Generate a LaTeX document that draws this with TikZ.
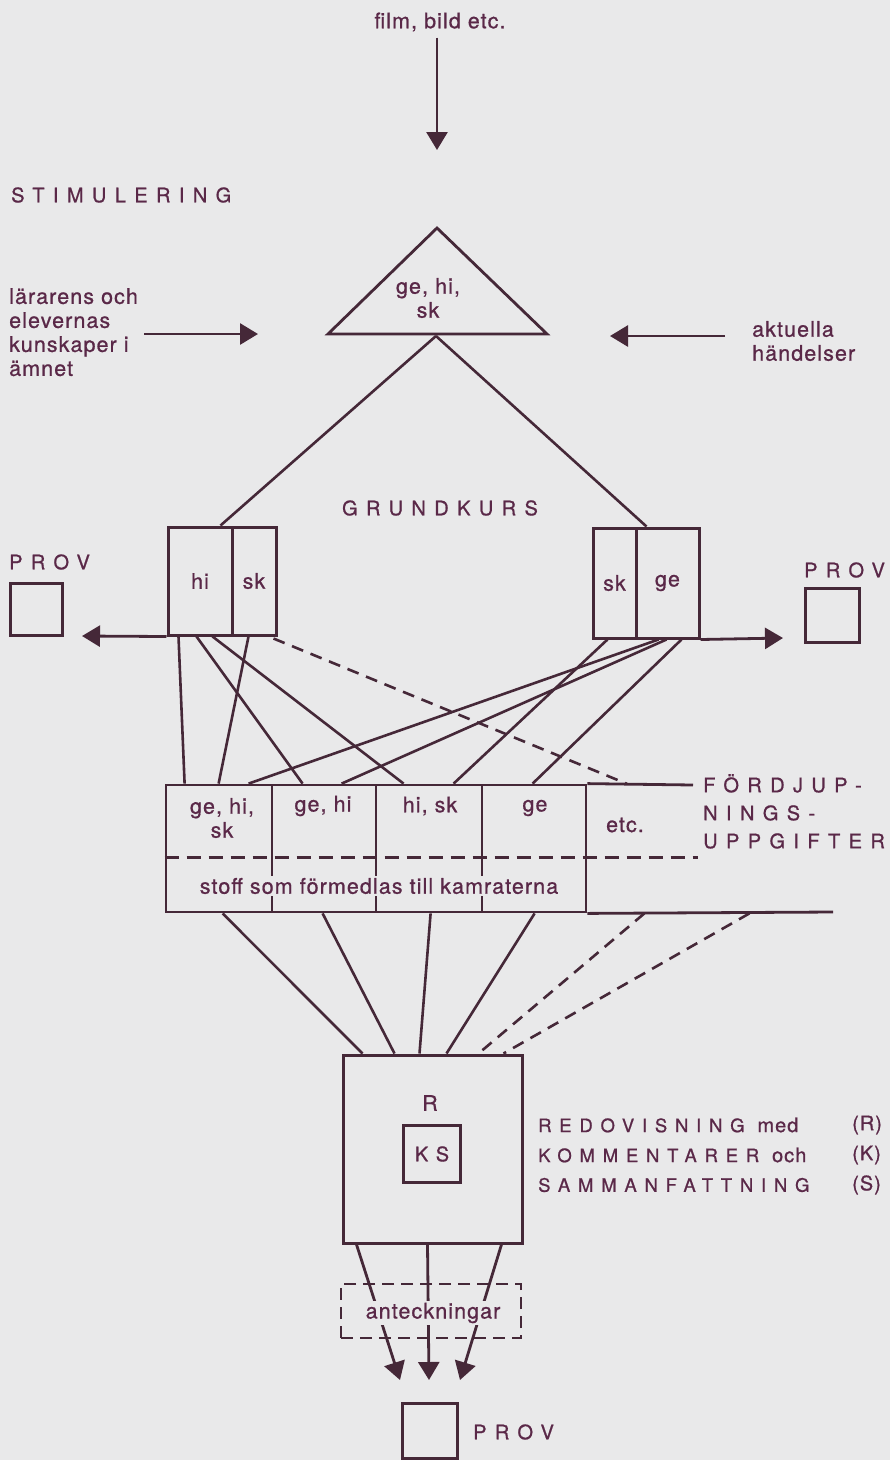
\documentclass[tikz,border=0pt]{standalone}
\usepackage{fontspec}
\setmainfont{TeX Gyre Heros}
\newfontfamily\plainfont[LetterSpace=5,FakeBold=0.8]{TeX Gyre Heros}
\newfontfamily\spacedfont[LetterSpace=42,FakeBold=0.8]{TeX Gyre Heros}
\usetikzlibrary{arrows.meta}
\usetikzlibrary{calc}
\definecolor{paper}{HTML}{E9E9EA}
\definecolor{ink}{HTML}{452838}
\definecolor{print}{HTML}{5A2848}

\begin{document}
\begin{tikzpicture}[x=1pt,y=-1pt,color=ink,
  lbl/.style={font=\plainfont\fontsize{21.5}{24}\selectfont, text=print, inner sep=0pt, align=center},
  caps/.style={font=\spacedfont\fontsize{20}{28}\selectfont, text=print, inner sep=0pt},
  side/.style={font=\spacedfont\fontsize{18.5}{24}\selectfont, text=print, inner sep=0pt, anchor=west},
  box/.style={draw=ink, line width=3pt, rectangle, inner sep=0pt, font=\plainfont\fontsize{21.5}{24}\selectfont, text=print},
  link/.style={line width=2.6pt},
  hint/.style={line width=2.6pt, dash pattern=on 12pt off 8pt},
  arr/.style={line width=2.8pt, -{Triangle[length=18pt,width=21pt]}}]
\path[use as bounding box, fill=paper] (0,0) rectangle (890,1460);

% stimulering
\node[lbl] (film) at (440,22) {film, bild etc.};
\coordinate (filmtip) at (437,150);
\draw[arr, shorten <=6pt] (film.south -| filmtip) -- (filmtip);
\node[caps, anchor=west] (stim) at (11,195) {STIMULERING};
\coordinate (tritop) at (437,228);
\coordinate (trileft) at (328,334);
\coordinate (triright) at (547,334);
\draw[line width=2.8pt] (tritop) -- (triright) -- (trileft) -- cycle;
\node[lbl] (stimtri) at (428,298) {ge, hi,\\sk};
\node[lbl, align=left, anchor=north west] (know) at (9,288) {lärarens och\\elevernas\\kunskaper i\\ämnet};
\coordinate (knowtip) at (258,334);
\draw[arr, shorten <=6pt] (know.east |- knowtip) -- (knowtip);
\node[lbl, align=left, anchor=west] (news) at (752,341) {aktuella\\händelser};
\coordinate (newstip) at (610,336);
\draw[arr, shorten <=27pt] (news.west |- newstip) -- (newstip);

% grundkurs
\node[caps] (grund) at (440,508) {GRUNDKURS};
\node[box, minimum width=64pt, minimum height=108pt] (lhi) at (200,581) {hi};
\node[box, minimum width=44pt, minimum height=108pt] (lsk) at (254,581) {sk};
\node[box, minimum width=43pt, minimum height=110pt] (rsk) at (614.5,583) {sk};
\node[box, minimum width=63pt, minimum height=110pt] (rge) at (667.5,583) {ge};
\coordinate (vtop) at (436,336);
\draw[link] (vtop) -- ($(lhi.north west)+(54,0)$);
\draw[link] (vtop) -- ($(rge.north west)+(12,0)$);

% prov
\node[box, minimum size=52pt] (lprov) at (36,609) {};
\node[caps, anchor=west] (lprovtxt) at (9,562) {PROV};
\coordinate (lprovtip) at (82,636);
\draw[arr] (lhi.south west) -- (lprovtip);
\node[box, minimum size=54pt] (rprov) at (832,615) {};
\node[caps, anchor=west] (rprovtxt) at (804,570) {PROV};
\coordinate (rprovtip) at (783,638);
\draw[arr] (rge.south east) -- (rprovtip);

% fordjupningsuppgifter
\node[box, line width=2.8pt, minimum width=106pt, minimum height=127pt] (c1) at (219,848.5) {};
\node[box, line width=2.8pt, minimum width=104pt, minimum height=127pt] (c2) at (324,848.5) {};
\node[box, line width=2.8pt, minimum width=106pt, minimum height=127pt] (c3) at (429,848.5) {};
\node[box, line width=2.8pt, minimum width=104pt, minimum height=127pt] (c4) at (534,848.5) {};
\coordinate (topend) at (693,785);
\coordinate (botend) at (833,912);
\coordinate (dashend) at (698,857);
\draw[line width=2.8pt] (c4.north east) -- (topend);
\draw[line width=2.8pt] (c4.south east) -- (botend);
\draw[line width=3pt, dash pattern=on 14pt off 8pt] (c1.west) ++(0,8.5) -- (dashend);
\node[lbl] (t1) at (222,818) {ge, hi,\\sk};
\node[lbl] (t2) at (323,806) {ge, hi};
\node[lbl] (t3) at (430,806) {hi, sk};
\node[lbl] (t4) at (535,808) {ge};
\node[lbl] (t5) at (625,825) {etc.};
\node[lbl, fill=paper, inner sep=2pt] (stoff) at (379,886) {stoff som förmedlas till kamraterna};
\node[caps, align=left, anchor=north west] (deep) at (703,774) {FÖRDJUP-\\NINGS-\\UPPGIFTER};

% grundkurs -> uppgifter
\draw[link] ($(lhi.south west)+(12,0)$) -- ($(c1.north west)+(20,0)$);
\draw[link] ($(lsk.south west)+(18,0)$) -- ($(c1.north west)+(54,0)$);
\draw[link] ($(lhi.south west)+(30,0)$) -- ($(c2.north west)+(32,0)$);
\draw[link] ($(lhi.south west)+(46,0)$) -- ($(c3.north west)+(29,0)$);
\draw[hint] ($(lsk.south east)+(-4,2)$) -- ($(c4.north east)+(39,0)$);
\draw[link] ($(rsk.south west)+(16,0)$) -- ($(c3.north west)+(79,0)$);
\draw[link] ($(rge.south west)+(24,0)$) -- ($(c1.north west)+(84,0)$);
\draw[link] ($(rge.south west)+(32,0)$) -- ($(c2.north west)+(71,0)$);
\draw[link] ($(rge.south west)+(47,0)$) -- ($(c4.north west)+(52,0)$);

% redovisning
\node[box, minimum width=179pt, minimum height=188pt] (rbox) at (432.5,1149) {};
\node[lbl] (rtxt) at (430,1103) {R};
\node[box, minimum size=57pt, font=\spacedfont\fontsize{20}{24}\selectfont] (ks) at (432,1154) {KS};
\draw[link] ($(c1.south west)+(58,0)$) -- ($(rbox.north west)+(21,0)$);
\draw[link] ($(c2.south west)+(52,0)$) -- ($(rbox.north west)+(53,0)$);
\draw[link] ($(c3.south west)+(56,0)$) -- ($(rbox.north west)+(78,0)$);
\draw[link] ($(c4.south west)+(54,0)$) -- ($(rbox.north west)+(105,0)$);
\draw[hint] ($(c4.south east)+(57,0)$) -- ($(rbox.north west)+(137,0)$);
\draw[hint] ($(c4.south east)+(162,0)$) -- ($(rbox.north west)+(162,0)$);
\node[side] (redo) at (538,1125) {REDOVISNING {\plainfont\fontsize{20}{24}\selectfont med}};
\node[side] (komm) at (538,1155) {KOMMENTARER {\plainfont\fontsize{20}{24}\selectfont och}};
\node[side] (samm) at (538,1185) {SAMMANFATTNING};
\node[lbl, anchor=west, font=\plainfont\fontsize{20}{24}\selectfont] (redok) at (852,1125) {(R)};
\node[lbl, anchor=west, font=\plainfont\fontsize{20}{24}\selectfont] (kommk) at (852,1155) {(K)};
\node[lbl, anchor=west, font=\plainfont\fontsize{20}{24}\selectfont] (sammk) at (852,1185) {(S)};

% anteckningar och prov
\node[draw=ink, line width=2.8pt, dash pattern=on 12pt off 7pt, minimum width=180pt, minimum height=54pt] (notesbox) at (431,1311) {};
\coordinate (tip1) at (400,1380);
\coordinate (tip2) at (429,1380);
\coordinate (tip3) at (460,1380);
\draw[arr] ($(rbox.south west)+(15,0)$) -- (tip1);
\draw[arr] ($(rbox.south west)+(86,0)$) -- (tip2);
\draw[arr] ($(rbox.south west)+(160,0)$) -- (tip3);
\node[lbl, fill=paper, inner sep=1.5pt] (notes) at (433,1313) {anteckningar};
\node[box, minimum size=55pt] (bprov) at (429.5,1431) {};
\node[caps, anchor=west] (bprovtxt) at (473,1432) {PROV};
\end{tikzpicture}
\end{document}
